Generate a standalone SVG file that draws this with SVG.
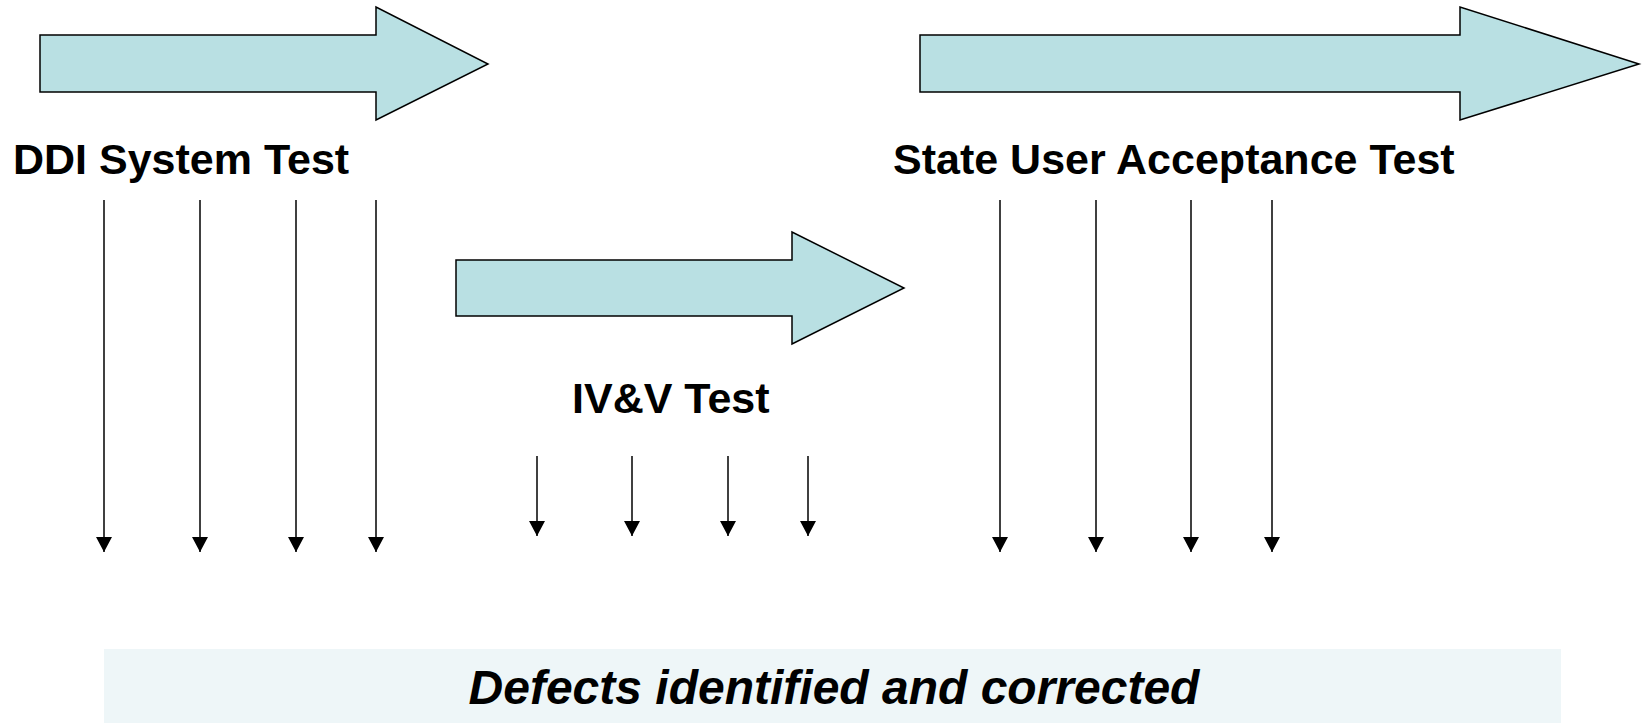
<svg xmlns="http://www.w3.org/2000/svg" width="1647" height="723" viewBox="0 0 1647 723">
  <style>
    .phase { fill: #B9E0E3; stroke: #000; stroke-width: 1.5; stroke-linejoin: miter; }
    .label { font-family: "Liberation Sans", Arial, sans-serif; font-weight: bold; font-size: 43px; fill: #000; }
    .defect { stroke: #000; stroke-width: 1.5; fill: none; marker-end: url(#head); }
    .banner { fill: #EEF6F8; }
    .banner-text { font-family: "Liberation Sans", Arial, sans-serif; font-weight: bold; font-style: italic; font-size: 48px; fill: #000; }
  </style>
  <defs>
    <marker id="head" viewBox="0 0 15 16" refX="15" refY="8" markerWidth="15" markerHeight="16" markerUnits="userSpaceOnUse" orient="auto">
      <path d="M0,0 L15,8 L0,16 z" fill="#000"/>
    </marker>
  </defs>
  <rect width="1647" height="723" fill="#fff"/>

  <!-- DDI system test phase -->
  <g id="ddi-system-test">
    <polygon class="phase" points="40,35 376,35 376,7 488,64 376,120 376,92 40,92"/>
    <text class="label" x="13" y="174">DDI System Test</text>
  </g>

  <!-- Independent verification & validation phase -->
  <g id="ivv-test">
    <polygon class="phase" points="456,260 792,260 792,232 904,288 792,344 792,316 456,316"/>
    <text class="label" x="572" y="413">IV&amp;V Test</text>
  </g>

  <!-- State user acceptance phase -->
  <g id="state-uat">
    <polygon class="phase" points="920,35 1460,35 1460,7 1639,64 1460,120 1460,92 920,92"/>
    <text class="label" x="893" y="174">State User Acceptance Test</text>
  </g>

  <!-- Outcome banner -->
  <g id="defects-banner">
    <rect class="banner" x="104" y="649" width="1457" height="74"/>
    <text class="banner-text" x="834" y="704" text-anchor="middle">Defects identified and corrected</text>
  </g>

  <!-- Defect flows from each phase down to the banner -->
  <g id="connectors">
    <line class="defect" x1="104" y1="200" x2="104" y2="552"/>
    <line class="defect" x1="200" y1="200" x2="200" y2="552"/>
    <line class="defect" x1="296" y1="200" x2="296" y2="552"/>
    <line class="defect" x1="376" y1="200" x2="376" y2="552"/>

    <line class="defect" x1="537" y1="456" x2="537" y2="536"/>
    <line class="defect" x1="632" y1="456" x2="632" y2="536"/>
    <line class="defect" x1="728" y1="456" x2="728" y2="536"/>
    <line class="defect" x1="808" y1="456" x2="808" y2="536"/>

    <line class="defect" x1="1000" y1="200" x2="1000" y2="552"/>
    <line class="defect" x1="1096" y1="200" x2="1096" y2="552"/>
    <line class="defect" x1="1191" y1="200" x2="1191" y2="552"/>
    <line class="defect" x1="1272" y1="200" x2="1272" y2="552"/>
  </g>
</svg>
